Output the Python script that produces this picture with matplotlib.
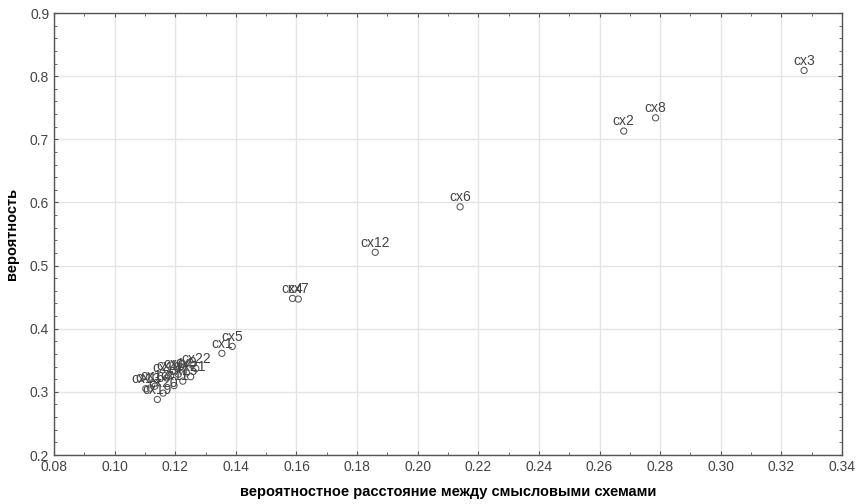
import matplotlib
matplotlib.use("Agg")
import matplotlib.pyplot as plt
from matplotlib.ticker import MultipleLocator, FormatStrFormatter
from matplotlib import font_manager

labels = ["cx3", "cx8", "cx2", "cx6", "cx12", "cx4", "cx7", "cx1", "cx5",
          "cx13", "cx16", "cx17", "cx19", "cx20", "cx18", "cx10", "cx11",
          "cx14", "cx15", "cx9", "cx21", "cx22"]
dist = [0.3275, 0.2785, 0.2680, 0.2140, 0.1860, 0.1587, 0.1606, 0.1354, 0.1388,
        0.1103, 0.1118, 0.1133, 0.1141, 0.1160, 0.1172, 0.1185, 0.1196,
        0.1210, 0.1225, 0.1237, 0.1251, 0.1268]
prob = [0.809, 0.734, 0.713, 0.593, 0.521, 0.448, 0.447, 0.361, 0.372,
        0.305, 0.306, 0.309, 0.288, 0.298, 0.322, 0.326, 0.310,
        0.328, 0.317, 0.330, 0.324, 0.337]

xlabel = "вероятностное расстояние между смысловыми схемами"
ylabel = "вероятность"

names = {f.name for f in font_manager.fontManager.ttflist}
tickfont = "Liberation Sans Narrow" if "Liberation Sans Narrow" in names else "Liberation Sans"

fig = plt.figure(figsize=(8.64, 5.04), dpi=100)
ax = fig.add_axes([0.0625, 0.0972, 0.912, 0.877])

ax.set_xlim(0.08, 0.34)
ax.set_ylim(0.2, 0.9)
ax.xaxis.set_major_locator(MultipleLocator(0.02))
ax.xaxis.set_minor_locator(MultipleLocator(0.01))
ax.yaxis.set_major_locator(MultipleLocator(0.1))
ax.yaxis.set_minor_locator(MultipleLocator(0.02))
ax.xaxis.set_major_formatter(FormatStrFormatter("%.2f"))
ax.yaxis.set_major_formatter(FormatStrFormatter("%.1f"))

ax.grid(True, which="major", color="#e4e4e4", linewidth=1.0)
ax.set_axisbelow(True)
for s in ax.spines.values():
    s.set_color("#555555")
    s.set_linewidth(1.0)

ax.tick_params(which="both", direction="in", top=True, right=True,
               colors="#555555", labelcolor="#444444")
ax.tick_params(which="major", length=3, labelsize=10)
ax.tick_params(which="minor", length=2)
for lab in ax.get_xticklabels() + ax.get_yticklabels():
    lab.set_family(tickfont)

ax.scatter(dist, prob, s=20, facecolors="none", edgecolors="#555555",
           linewidths=0.75, zorder=3)
for x, y, t in zip(dist, prob, labels):
    ax.annotate(t, (x, y), xytext=(0, 2), textcoords="offset points",
                ha="center", va="bottom", fontsize=10, color="#444444",
                family="Liberation Sans", zorder=4)

ax.set_xlabel(xlabel, fontsize=10.5, fontweight="bold", family="Liberation Sans",
              labelpad=8)
ax.set_ylabel(ylabel, fontsize=10.5, fontweight="bold", family="Liberation Sans",
              labelpad=8)

fig.savefig("out.png", dpi=100)
